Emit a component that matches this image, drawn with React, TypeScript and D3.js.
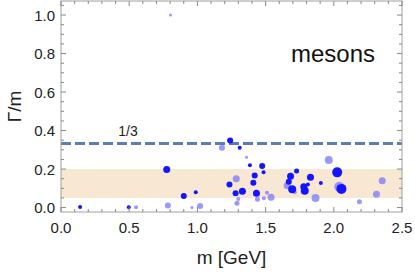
import { useEffect, useRef } from "react";
import * as d3 from "d3";

// meson masses (GeV), width/mass ratios, marker weight (1..8) and kind (0 = dark, 1 = light)
const MASS = [
  0.14, 0.497, 0.55, 0.775, 0.783, 0.803, 0.9, 0.988, 0.96, 1.02,
  1.24, 1.18, 1.31, 1.36, 1.385, 1.285, 1.235, 1.33, 1.28, 1.3,
  1.29, 1.475, 1.485, 1.42, 1.41, 1.433, 1.51, 1.54, 1.44, 1.487,
  1.727, 1.683, 1.67, 1.658, 1.829, 1.81, 1.695, 1.78, 1.787, 1.714,
  1.905, 1.963, 2.025, 2.04, 2.056, 1.866, 2.188, 2.313, 2.355,
];
const RATIO = [
  0.003, 0.002, 0.002, 0.198, 0.011, 1.0, 0.06, 0.079, 0.001, 0.008,
  0.349, 0.311, 0.311, 0.262, 0.22, 0.15, 0.12, 0.085, 0.074, 0.044,
  0.022, 0.216, 0.183, 0.167, 0.129, 0.074, 0.077, 0.053, 0.043, 0.048,
  0.19, 0.163, 0.134, 0.115, 0.157, 0.12, 0.095, 0.108, 0.087, 0.079,
  0.127, 0.247, 0.183, 0.108, 0.097, 0.05, 0.03, 0.069, 0.139,
];
const WEIGHT = [
  2, 2, 2, 5, 4, 1, 4, 2, 1, 4,
  4, 4, 2, 1, 2, 5, 4, 5, 4, 2,
  3, 4, 2, 4, 4, 5, 2, 5, 3, 2,
  3, 5, 4, 5, 5, 2, 6, 5, 6, 2,
  2, 6, 8, 8, 8, 6, 3, 5, 5,
];
const KIND = [
  0, 0, 1, 0, 1, 1, 0, 0, 1, 1,
  0, 1, 0, 1, 0, 1, 0, 0, 0, 1,
  1, 0, 0, 0, 0, 0, 1, 1, 1, 1,
  0, 0, 0, 1, 0, 0, 0, 0, 0, 1,
  0, 1, 0, 1, 0, 1, 1, 1, 1,
];

const X_TICKS = [0, 0.5, 1, 1.5, 2, 2.5];
const Y_TICKS = [0, 0.2, 0.4, 0.6, 0.8, 1.0];
const BAND = [0.05, 0.2];
const THIRD = 1 / 3;

const W = 415;
const H = 273;
const FONT = "'Liberation Sans', Arial, sans-serif";

export default function App() {
  const ref = useRef<SVGSVGElement>(null);

  useEffect(() => {
    const svg = d3.select(ref.current);
    svg.selectAll("*").remove();

    const x = d3.scaleLinear().domain([0, 2.5]).range([61, 402]);
    const y = d3.scaleLinear().domain([-0.023, 1.073]).range([212, 1]);
    const r = d3.scaleLinear().domain([1, 8]).range([1.5, 5]);
    const [x0, x1] = x.range();
    const [y0, y1] = y.range();

    // band
    svg.append("rect")
      .attr("x", x0).attr("width", x1 - x0)
      .attr("y", y(BAND[1])).attr("height", y(BAND[0]) - y(BAND[1]))
      .attr("fill", "#f8e7d2");

    // 1/3 line
    svg.append("line")
      .attr("x1", x0).attr("x2", x1)
      .attr("y1", y(THIRD)).attr("y2", y(THIRD))
      .attr("stroke", "#5b7db3").attr("stroke-width", 3)
      .attr("stroke-dasharray", "10,4");
    svg.append("text")
      .attr("x", x(0.42)).attr("y", y(THIRD) - 7)
      .attr("font-size", 14).attr("font-family", FONT).attr("fill", "#222")
      .text("1/3");

    // points: light first, dark on top
    const pts = MASS.map((m, i) => ({ m, v: RATIO[i], w: WEIGHT[i], k: KIND[i] }));
    const ordered = [...pts.filter((p) => p.k === 1), ...pts.filter((p) => p.k === 0)];
    svg.append("g").selectAll("circle")
      .data(ordered)
      .join("circle")
      .attr("cx", (d) => x(d.m))
      .attr("cy", (d) => y(d.v))
      .attr("r", (d) => r(d.w))
      .attr("fill", (d) => (d.k === 0 ? "#1414ff" : "#7f7ff8"))
      .attr("fill-opacity", (d) => (d.k === 0 ? 1 : 0.8));

    // frame
    svg.append("rect")
      .attr("x", x0).attr("y", y1)
      .attr("width", x1 - x0).attr("height", y0 - y1)
      .attr("fill", "none").attr("stroke", "#a0a0a0").attr("stroke-width", 1);

    // ticks, all four sides, inward
    const tg = svg.append("g").attr("stroke", "#888").attr("stroke-width", 1);
    const xMinor = d3.range(0, 2.51, 0.1);
    xMinor.forEach((t) => {
      const major = X_TICKS.some((m) => Math.abs(m - t) < 1e-6);
      const len = major ? 5 : 3;
      tg.append("line").attr("x1", x(t)).attr("x2", x(t)).attr("y1", y0).attr("y2", y0 - len);
      tg.append("line").attr("x1", x(t)).attr("x2", x(t)).attr("y1", y1).attr("y2", y1 + len);
    });
    const yMinor = d3.range(0, 1.06, 0.05);
    yMinor.forEach((t) => {
      const major = Y_TICKS.some((m) => Math.abs(m - t) < 1e-6);
      const len = major ? 5 : 3;
      tg.append("line").attr("x1", x0).attr("x2", x0 + len).attr("y1", y(t)).attr("y2", y(t));
      tg.append("line").attr("x1", x1).attr("x2", x1 - len).attr("y1", y(t)).attr("y2", y(t));
    });

    // tick labels
    const fmt = d3.format(".1f");
    svg.append("g").selectAll("text")
      .data(X_TICKS)
      .join("text")
      .attr("x", (d) => x(d)).attr("y", 233)
      .attr("text-anchor", "middle")
      .attr("font-size", 15).attr("font-family", FONT).attr("fill", "#222")
      .text(fmt);
    svg.append("g").selectAll("text")
      .data(Y_TICKS)
      .join("text")
      .attr("x", 55).attr("y", (d) => y(d) + 5.5)
      .attr("text-anchor", "end")
      .attr("font-size", 15).attr("font-family", FONT).attr("fill", "#222")
      .text(fmt);

    // axis titles
    svg.append("text")
      .attr("transform", `translate(21,${(y0 + y1) / 2}) rotate(-90)`)
      .attr("text-anchor", "middle")
      .attr("font-size", 19).attr("font-family", FONT).attr("fill", "#222")
      .text("Γ/m");
    svg.append("text")
      .attr("x", (x0 + x1) / 2).attr("y", 264)
      .attr("text-anchor", "middle")
      .attr("font-size", 19).attr("font-family", FONT).attr("fill", "#222")
      .text("m [GeV]");

    svg.append("text")
      .attr("x", 291).attr("y", 62)
      .attr("font-size", 24).attr("font-family", FONT).attr("fill", "#111")
      .text("mesons");
  }, []);

  return (
    <svg
      ref={ref}
      width={W}
      height={H}
      style={{ position: "absolute", left: 0, top: 0, background: "#fff" }}
    />
  );
}
